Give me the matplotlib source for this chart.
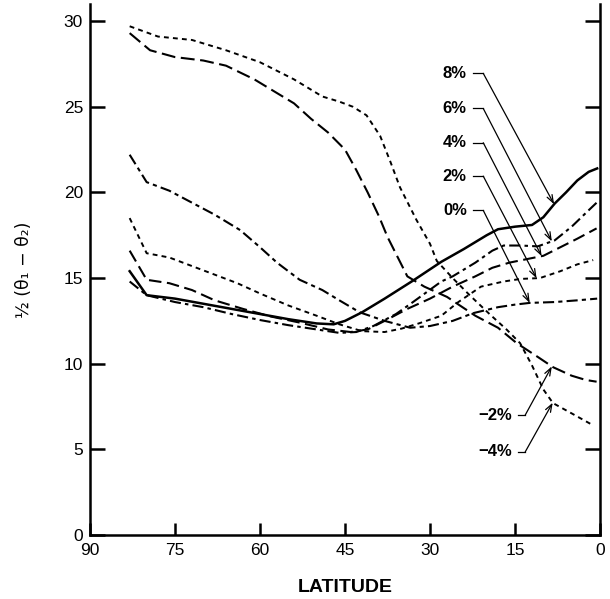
import numpy as np
import matplotlib
matplotlib.use('Agg')
import matplotlib.pyplot as plt

plt.rcParams['font.family'] = ['Liberation Sans', 'DejaVu Sans']
plt.rcParams['lines.scale_dashes'] = False

# Half angular difference against latitude, one curve per percentage
LAT_P8 = [83, 80, 75, 70, 65, 60, 55, 50, 47, 45, 42, 38, 33, 28, 24, 20,
          18, 15, 12, 10, 8, 6, 4, 2, 0.5]
VAL_P8 = [15.4, 14.0, 13.8, 13.5, 13.2, 12.9, 12.6, 12.35, 12.3, 12.5, 13.0,
          13.8, 14.85, 15.95, 16.7, 17.5, 17.85, 18.0, 18.1, 18.55, 19.35,
          20.0, 20.7, 21.2, 21.4]

LAT_P6 = [83, 80, 75, 70, 65, 60, 55, 50, 46, 43, 40, 36, 33, 28, 26, 22,
          19, 17, 14, 11, 8, 5, 2.5, 0.6]
VAL_P6 = [14.8, 14.0, 13.6, 13.3, 12.9, 12.55, 12.25, 12.0, 11.8, 11.85,
          12.2, 12.9, 13.6, 14.8, 15.1, 15.9, 16.6, 16.9, 16.9, 16.85, 17.2,
          18.0, 18.8, 19.4]

LAT_P4 = [83, 80, 76, 72, 68, 63, 58, 53, 48, 44, 41, 38, 34, 30, 26, 22,
          19, 16, 13, 10, 7, 4, 0.6]
VAL_P4 = [16.6, 14.9, 14.7, 14.3, 13.7, 13.2, 12.75, 12.4, 12.0, 11.85,
          12.0, 12.5, 13.2, 13.8, 14.5, 15.1, 15.6, 15.9, 16.1, 16.3, 16.8,
          17.3, 17.9]

LAT_P2 = [83, 80, 76, 72, 68, 64, 60, 55, 50, 46, 42, 38, 35, 32, 28, 25,
          21, 17, 14, 10.6, 7, 4, 1.2]
VAL_P2 = [18.5, 16.45, 16.2, 15.7, 15.2, 14.7, 14.1, 13.4, 12.8, 12.3, 11.9,
          11.85, 12.05, 12.35, 12.8, 13.6, 14.5, 14.8, 14.95, 15.0, 15.4,
          15.8, 16.05]

LAT_P0 = [83, 80, 76, 72, 68, 63.5, 60, 57, 53, 49, 46, 42.4, 38, 33.5, 30,
          26, 22.4, 18, 15, 12.4, 8, 4, 0.5]
VAL_P0 = [22.2, 20.6, 20.1, 19.4, 18.7, 17.8, 16.8, 15.9, 14.9, 14.3, 13.7,
          13.0, 12.5, 12.1, 12.2, 12.5, 12.95, 13.3, 13.45, 13.55, 13.6,
          13.7, 13.8]

LAT_M2 = [83, 79.4, 75, 70, 66, 61, 57, 54, 51, 48, 45, 43, 41, 39, 37.5,
          34, 31, 27, 22, 18, 14.7, 11, 8.3, 5, 2.5, 0.6]
VAL_M2 = [29.3, 28.3, 27.9, 27.7, 27.4, 26.6, 25.8, 25.2, 24.3, 23.5, 22.5,
          21.3, 20.0, 18.6, 17.4, 15.1, 14.5, 13.9, 12.8, 12.1, 11.2, 10.4,
          9.8, 9.3, 9.05, 8.95]

LAT_M4 = [83, 78, 72, 66, 60, 54, 49, 46, 43.6, 41.2, 38.8, 37, 35.3, 32.4,
          30, 28.8, 26, 23, 19.5, 16.5, 14.1, 12, 10, 8.3, 5, 1.2]
VAL_M4 = [29.7, 29.1, 28.9, 28.3, 27.6, 26.6, 25.6, 25.3, 25.0, 24.5, 23.3,
          21.8, 20.3, 18.4, 17.0, 16.0, 15.0, 14.0, 12.9, 12.0, 11.2, 9.9,
          8.5, 7.7, 7.1, 6.4]

# label text, label position, arrow tip latitude
UPPER_LABELS = ['8%', '6%', '4%', '2%', '0%']
UPPER_LABEL_Y = [26.95, 24.9, 22.9, 20.95, 18.95]
UPPER_TIP_LAT = [8.1, 8.5, 10.3, 11.2, 12.4]

LOWER_LABELS = ['\u22122%', '\u22124%']
LOWER_LABEL_Y = [7.0, 4.85]
LOWER_TIP_LAT = [8.5, 8.35]

CURVES = [
    (LAT_P8, VAL_P8, dict(ls='-', lw=1.8)),
    (LAT_P6, VAL_P6, dict(dashes=(8, 3, 2.5, 3), lw=1.5)),
    (LAT_P4, VAL_P4, dict(dashes=(9, 4), lw=1.5)),
    (LAT_P2, VAL_P2, dict(dashes=(3.5, 3), lw=1.4)),
    (LAT_P0, VAL_P0, dict(dashes=(8, 3, 3, 3), lw=1.5)),
    (LAT_M2, VAL_M2, dict(dashes=(10, 4), lw=1.5)),
    (LAT_M4, VAL_M4, dict(dashes=(3.5, 3), lw=1.4)),
]

FIG = plt.figure(figsize=(6.1, 5.99), dpi=100)
AX = FIG.add_axes([90 / 610, 1 - 535 / 599, 510 / 610, 531 / 599])

for lat, val, style in CURVES:
    AX.plot(lat, val, color='black', **style)

AX.set_xlim(90, 0)
AX.set_ylim(0, 31)
AX.set_xticks([90, 75, 60, 45, 30, 15, 0])
AX.set_yticks([0, 5, 10, 15, 20, 25, 30])

AX.spines['top'].set_visible(False)
for side in ['left', 'right', 'bottom']:
    AX.spines[side].set_linewidth(1.8)

AX.tick_params(axis='y', direction='in', length=11, width=1.8,
               right=True, labelsize=12.5, pad=5)
AX.tick_params(axis='x', direction='in', length=9, width=1.8,
               labelsize=12.5, pad=6)

AX.set_xlabel('LATITUDE', fontsize=14, fontweight='bold',
              fontstretch='condensed',
              family=['Liberation Sans Narrow', 'DejaVu Sans Condensed',
                      'Liberation Sans'], labelpad=15)
AX.set_ylabel('\u00bd (\u03b8\u2081 \u2212 \u03b8\u2082)', fontsize=12.5,
              family=['DejaVu Sans'], labelpad=22)


def leader(label, label_y, tip_lat, tip_curve, text_right, corner_lat):
    """Label with a short horizontal lead that bends into an arrow."""
    tip_y = np.interp(tip_lat, tip_curve[0][::-1], tip_curve[1][::-1])
    AX.text(text_right, label_y, label, ha='right', va='center',
            fontsize=12, fontweight='bold')
    AX.plot([text_right - 1.0, corner_lat], [label_y, label_y],
            color='black', lw=0.9)
    AX.annotate('', xy=(tip_lat, tip_y), xytext=(corner_lat, label_y),
                arrowprops=dict(arrowstyle='->,head_length=0.55,head_width=0.2',
                                color='black', lw=0.9,
                                shrinkA=0, shrinkB=0))


UPPER_CURVES = [(LAT_P8, VAL_P8), (LAT_P6, VAL_P6), (LAT_P4, VAL_P4),
                (LAT_P2, VAL_P2), (LAT_P0, VAL_P0)]
for lab, ly, tl, crv in zip(UPPER_LABELS, UPPER_LABEL_Y, UPPER_TIP_LAT,
                            UPPER_CURVES):
    leader(lab, ly, tl, crv, 23.5, 20.6)

LOWER_CURVES = [(LAT_M2, VAL_M2), (LAT_M4, VAL_M4)]
for lab, ly, tl, crv in zip(LOWER_LABELS, LOWER_LABEL_Y, LOWER_TIP_LAT,
                            LOWER_CURVES):
    leader(lab, ly, tl, crv, 15.5, 13.2)

plt.savefig('out.png', dpi=100)
